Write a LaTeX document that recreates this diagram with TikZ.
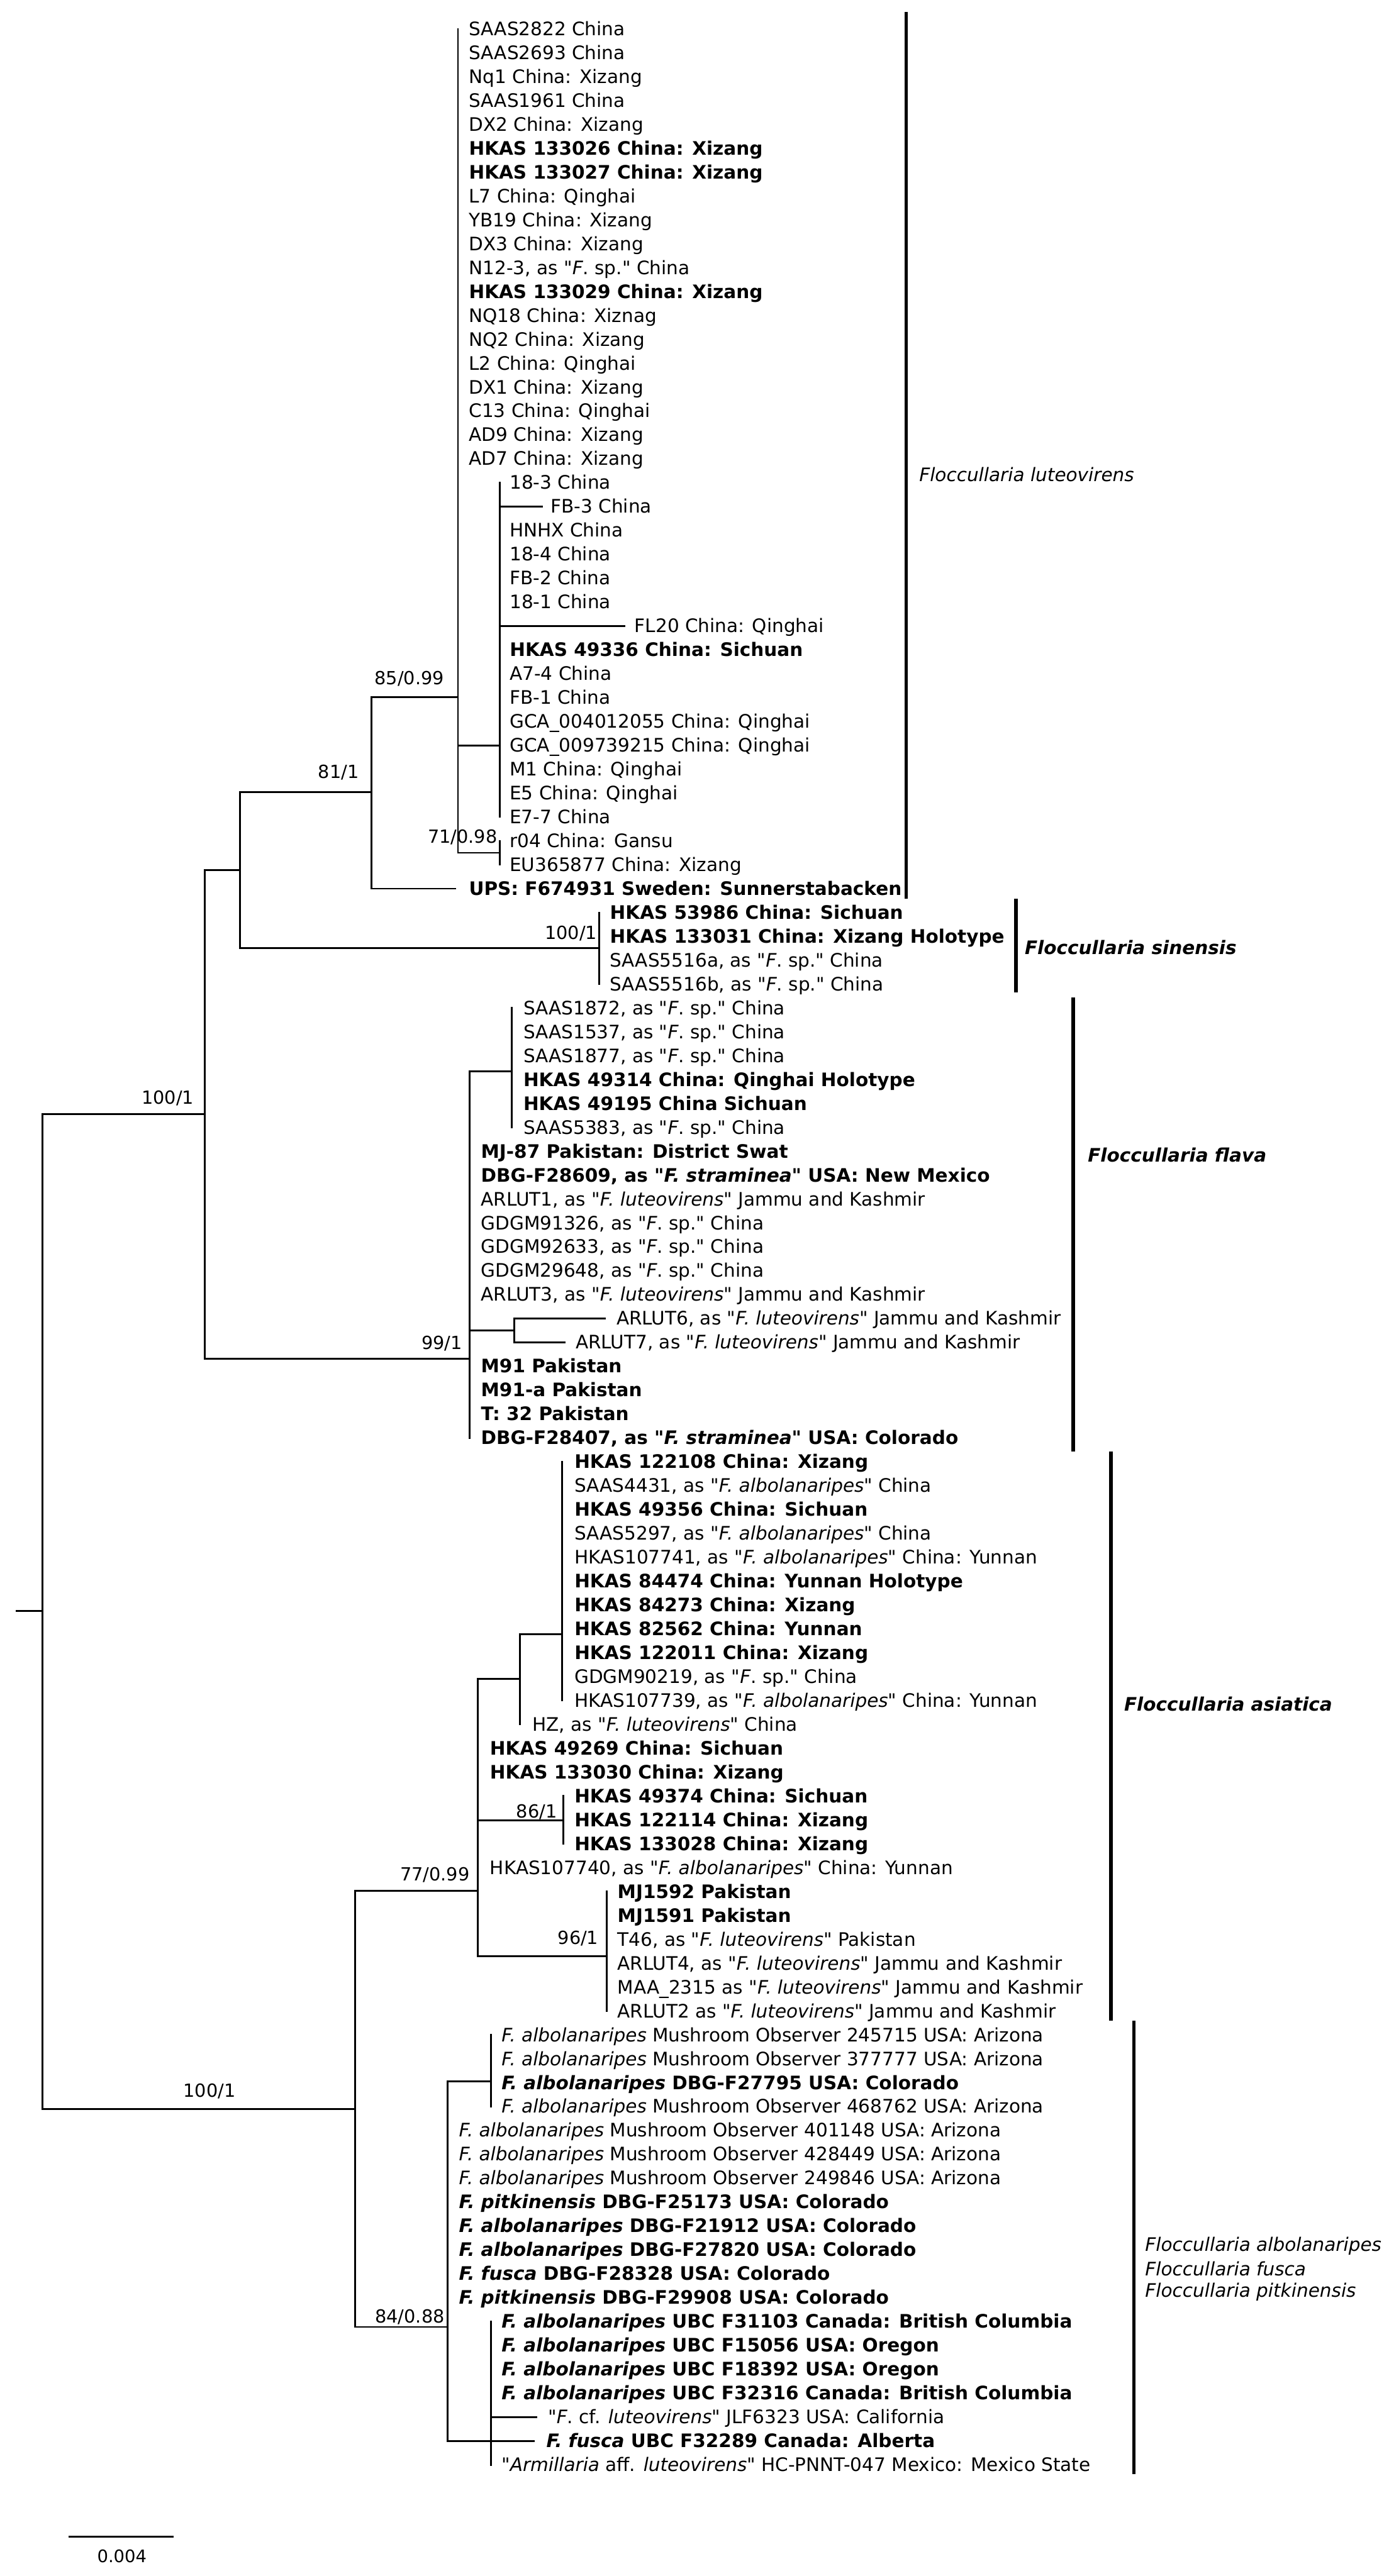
\documentclass[tikz,border=0pt]{standalone}
\usepackage{fontspec}
\newfontfamily\dv{DejaVu Sans}[ItalicFont={DejaVu Sans Oblique},BoldFont={DejaVu Sans Bold},BoldItalicFont={DejaVu Sans Bold Oblique}]
\newcommand\fs{\dv\fontsize{11.3}{13.6}\selectfont}
\newcommand\q{\symbol{34}}
\newcommand\LF[5][]{%
  \coordinate (t#2) at (#3,{17.6+(#2-1)*14.536});
  \node[leaflab,#1] (l#2) at (#4,{21.6+(#2-1)*14.536}) {#5};}
\tikzset{
  br/.style={line width=1.1pt, line cap=rect},
  cladebar/.style={line width=2.2pt},
  leaflab/.style={anchor=base west, inner sep=0pt, font=\fs},
  bl/.style={font=\fs\bfseries},
  supp/.style={inner sep=0pt, font=\dv\fontsize{11}{13}\selectfont},
  cladelab/.style={anchor=west, inner sep=0pt, font=\fs\itshape},
  cladelabb/.style={anchor=west, inner sep=0pt, font=\fs\bfseries\itshape}
}
\begin{document}
\begin{tikzpicture}[x=1pt,y=-1pt]
\useasboundingbox (0,0) rectangle (845,1568);
% ---------------- leaves ----------------
% Floccullaria luteovirens
\LF{1}{278.7}{285.2}{SAAS2822 China}
\LF{2}{278.7}{285.2}{SAAS2693 China}
\LF{3}{278.7}{285.2}{Nq1 China: Xizang}
\LF{4}{278.7}{285.2}{SAAS1961 China}
\LF{5}{278.7}{285.2}{DX2 China: Xizang}
\LF[bl]{6}{278.7}{285.2}{HKAS 133026 China: Xizang}
\LF[bl]{7}{278.7}{285.2}{HKAS 133027 China: Xizang}
\LF{8}{278.7}{285.2}{L7 China: Qinghai}
\LF{9}{278.7}{285.2}{YB19 China: Xizang}
\LF{10}{278.7}{285.2}{DX3 China: Xizang}
\LF{11}{278.7}{285.2}{N12-3, as \q\textit{F}. sp.\q{} China}
\LF[bl]{12}{278.7}{285.2}{HKAS 133029 China: Xizang}
\LF{13}{278.7}{285.2}{NQ18 China: Xiznag}
\LF{14}{278.7}{285.2}{NQ2 China: Xizang}
\LF{15}{278.7}{285.2}{L2 China: Qinghai}
\LF{16}{278.7}{285.2}{DX1 China: Xizang}
\LF{17}{278.7}{285.2}{C13 China: Qinghai}
\LF{18}{278.7}{285.2}{AD9 China: Xizang}
\LF{19}{278.7}{285.2}{AD7 China: Xizang}
\LF{20}{304}{310}{18-3 China}
\LF{21}{330}{335}{FB-3 China}
\LF{22}{304}{310}{HNHX China}
\LF{23}{304}{310}{18-4 China}
\LF{24}{304}{310}{FB-2 China}
\LF{25}{304}{310}{18-1 China}
\LF{26}{380}{386}{FL20 China: Qinghai}
\LF[bl]{27}{304}{310}{HKAS 49336 China: Sichuan}
\LF{28}{304}{310}{A7-4 China}
\LF{29}{304}{310}{FB-1 China}
\LF{30}{304}{310}{GCA\_004012055 China: Qinghai}
\LF{31}{304}{310}{GCA\_009739215 China: Qinghai}
\LF{32}{304}{310}{M1 China: Qinghai}
\LF{33}{304}{310}{E5 China: Qinghai}
\LF{34}{304}{310}{E7-7 China}
\LF{35}{304}{310}{r04 China: Gansu}
\LF{36}{304}{310}{EU365877 China: Xizang}
\LF[bl]{37}{277}{285.2}{UPS: F674931 Sweden: Sunnerstabacken}
% Floccullaria sinensis
\LF[bl]{38}{364.7}{371}{HKAS 53986 China: Sichuan}
\LF[bl]{39}{364.7}{371}{HKAS 133031 China: Xizang Holotype}
\LF{40}{364.7}{371}{SAAS5516a, as \q\textit{F}. sp.\q{} China}
\LF{41}{364.7}{371}{SAAS5516b, as \q\textit{F}. sp.\q{} China}
% Floccullaria flava
\LF{42}{311.4}{318.3}{SAAS1872, as \q\textit{F}. sp.\q{} China}
\LF{43}{311.4}{318.3}{SAAS1537, as \q\textit{F}. sp.\q{} China}
\LF{44}{311.4}{318.3}{SAAS1877, as \q\textit{F}. sp.\q{} China}
\LF[bl]{45}{311.4}{318.3}{HKAS 49314 China: Qinghai Holotype}
\LF[bl]{46}{311.4}{318.3}{HKAS 49195 China Sichuan}
\LF{47}{311.4}{318.3}{SAAS5383, as \q\textit{F}. sp.\q{} China}
\LF[bl]{48}{285.7}{292.5}{MJ-87 Pakistan: District Swat}
\LF[bl]{49}{285.7}{292.5}{DBG-F28609, as \q\textit{F. straminea}\q{} USA: New Mexico}
\LF{50}{285.7}{292.5}{ARLUT1, as \q\textit{F. luteovirens}\q{} Jammu and Kashmir}
\LF{51}{285.7}{292.5}{GDGM91326, as \q\textit{F}. sp.\q{} China}
\LF{52}{285.7}{292.5}{GDGM92633, as \q\textit{F}. sp.\q{} China}
\LF{53}{285.7}{292.5}{GDGM29648, as \q\textit{F}. sp.\q{} China}
\LF{54}{285.7}{292.5}{ARLUT3, as \q\textit{F. luteovirens}\q{} Jammu and Kashmir}
\LF{55}{368}{375}{ARLUT6, as \q\textit{F. luteovirens}\q{} Jammu and Kashmir}
\LF{56}{343.6}{350.1}{ARLUT7, as \q\textit{F. luteovirens}\q{} Jammu and Kashmir}
\LF[bl]{57}{285.7}{292.5}{M91 Pakistan}
\LF[bl]{58}{285.7}{292.5}{M91-a Pakistan}
\LF[bl]{59}{285.7}{292.5}{T: 32 Pakistan}
\LF[bl]{60}{285.7}{292.5}{DBG-F28407, as \q\textit{F. straminea}\q{} USA: Colorado}
% Floccullaria asiatica
\LF[bl]{61}{342}{349.4}{HKAS 122108 China: Xizang}
\LF{62}{342}{349.4}{SAAS4431, as \q\textit{F. albolanaripes}\q{} China}
\LF[bl]{63}{342}{349.4}{HKAS 49356 China: Sichuan}
\LF{64}{342}{349.4}{SAAS5297, as \q\textit{F. albolanaripes}\q{} China}
\LF{65}{342}{349.4}{HKAS107741, as \q\textit{F. albolanaripes}\q{} China: Yunnan}
\LF[bl]{66}{342}{349.4}{HKAS 84474 China: Yunnan Holotype}
\LF[bl]{67}{342}{349.4}{HKAS 84273 China: Xizang}
\LF[bl]{68}{342}{349.4}{HKAS 82562 China: Yunnan}
\LF[bl]{69}{342}{349.4}{HKAS 122011 China: Xizang}
\LF{70}{342}{349.4}{GDGM90219, as \q\textit{F}. sp.\q{} China}
\LF{71}{342}{349.4}{HKAS107739, as \q\textit{F. albolanaripes}\q{} China: Yunnan}
\LF{72}{316.4}{323.8}{HZ, as \q\textit{F. luteovirens}\q{} China}
\LF[bl]{73}{290.7}{298}{HKAS 49269 China: Sichuan}
\LF[bl]{74}{290.7}{298}{HKAS 133030 China: Xizang}
\LF[bl]{75}{342.9}{349.4}{HKAS 49374 China: Sichuan}
\LF[bl]{76}{342.9}{349.4}{HKAS 122114 China: Xizang}
\LF[bl]{77}{342.9}{349.4}{HKAS 133028 China: Xizang}
\LF{78}{290.7}{298}{HKAS107740, as \q\textit{F. albolanaripes}\q{} China: Yunnan}
\LF[bl]{79}{369.1}{375.6}{MJ1592 Pakistan}
\LF[bl]{80}{369.1}{375.6}{MJ1591 Pakistan}
\LF{81}{369.1}{375.6}{T46, as \q\textit{F. luteovirens}\q{} Pakistan}
\LF{82}{369.1}{375.6}{ARLUT4, as \q\textit{F. luteovirens}\q{} Jammu and Kashmir}
\LF{83}{369.1}{375.6}{MAA\_2315 as \q\textit{F. luteovirens}\q{} Jammu and Kashmir}
\LF{84}{369.1}{375.6}{ARLUT2 as \q\textit{F. luteovirens}\q{} Jammu and Kashmir}
% albolanaripes / fusca / pitkinensis
\LF{85}{298.7}{305}{\textit{F. albolanaripes} Mushroom Observer 245715 USA: Arizona}
\LF{86}{298.7}{305}{\textit{F. albolanaripes} Mushroom Observer 377777 USA: Arizona}
\LF[bl]{87}{298.7}{305}{\textit{F. albolanaripes} DBG-F27795 USA: Colorado}
\LF{88}{298.7}{305}{\textit{F. albolanaripes} Mushroom Observer 468762 USA: Arizona}
\LF{89}{272.5}{279.1}{\textit{F. albolanaripes} Mushroom Observer 401148 USA: Arizona}
\LF{90}{272.5}{279.1}{\textit{F. albolanaripes} Mushroom Observer 428449 USA: Arizona}
\LF{91}{272.5}{279.1}{\textit{F. albolanaripes} Mushroom Observer 249846 USA: Arizona}
\LF[bl]{92}{272.5}{279.1}{\textit{F. pitkinensis} DBG-F25173 USA: Colorado}
\LF[bl]{93}{272.5}{279.1}{\textit{F. albolanaripes} DBG-F21912 USA: Colorado}
\LF[bl]{94}{272.5}{279.1}{\textit{F. albolanaripes} DBG-F27820 USA: Colorado}
\LF[bl]{95}{272.5}{279.1}{\textit{F. fusca} DBG-F28328 USA: Colorado}
\LF[bl]{96}{272.5}{279.1}{\textit{F. pitkinensis} DBG-F29908 USA: Colorado}
\LF[bl]{97}{298.7}{305}{\textit{F. albolanaripes} UBC F31103 Canada: British Columbia}
\LF[bl]{98}{298.7}{305}{\textit{F. albolanaripes} UBC F15056 USA: Oregon}
\LF[bl]{99}{298.7}{305}{\textit{F. albolanaripes} UBC F18392 USA: Oregon}
\LF[bl]{100}{298.7}{305}{\textit{F. albolanaripes} UBC F32316 Canada: British Columbia}
\LF{101}{326.2}{333.3}{\q\textit{F}. cf. \textit{luteovirens}\q{} JLF6323 USA: California}
\LF[bl]{102}{325}{332.3}{\textit{F. fusca} UBC F32289 Canada: Alberta}
\LF{103}{298.7}{305}{\q\textit{Armillaria} aff. \textit{luteovirens}\q{} HC-PNNT-047 Mexico: Mexico State}
% ---------------- internal nodes ----------------
\coordinate (stub) at (10.3,980.6);
\coordinate (nR) at (26,980.6);
\coordinate (nA) at (124.5,678.1);
\coordinate (nB) at (146.1,529.6);
\coordinate (nC) at (226.2,482.3);
\coordinate (nD) at (278.7,424.4);
\coordinate (nE) at (304,453.8);
\coordinate (nF) at (304,519.1);
\coordinate (nG) at (364.7,577.2);
\coordinate (nH) at (285.7,826.9);
\coordinate (nI) at (311.4,652);
\coordinate (nJt) at (313.1,809.9);
\coordinate (nJ) at (216.2,1283.6);
\coordinate (nK) at (290.7,1150.8);
\coordinate (nL) at (316.4,1021.9);
\coordinate (nM) at (342,994.7);
\coordinate (nP) at (342.9,1108);
\coordinate (nQ) at (369.1,1190.7);
\coordinate (nN) at (272.5,1416.4);
\coordinate (nNa) at (298.7,1267);
\coordinate (nO) at (298.7,1485.7);
% ---------------- branches ----------------
\draw[br] (stub) -- (nR);
\draw[br] (nR |- nA) -- (nR |- nJ);
\draw[br] (nR |- nA) -- (nA);
\draw[br] (nR |- nJ) -- (nJ);
% A
\draw[br] (nA |- nB) -- (nA |- nH);
\draw[br] (nA |- nB) -- (nB);
\draw[br] (nA |- nH) -- (nH);
% B
\draw[br] (nB |- nC) -- (nB |- nG);
\draw[br] (nB |- nC) -- (nC);
\draw[br] (nB |- nG) -- (nG);
% C
\draw[br] (nC |- nD) -- (nC |- t37);
\draw[br] (nC |- nD) -- (nD);
\draw[br] (nC |- t37) -- (t37);
% D
\draw[br] (nD |- t1) -- (nD |- nF);
\draw[br] (nD |- nE) -- (nE);
\draw[br] (nD |- nF) -- (nF);
% E
\draw[br] (nE |- t20) -- (nE |- t34);
\draw[br] (nE |- t21) -- (t21);
\draw[br] (nE |- t26) -- (t26);
% F
\draw[br] (nF |- t35) -- (nF |- t36);
% G
\draw[br] (nG |- t38) -- (nG |- t41);
% H
\draw[br] (nH |- nI) -- (nH |- t60);
\draw[br] (nH |- nI) -- (nI);
\draw[br] (nH |- nJt) -- (nJt);
\draw[br] (nI |- t42) -- (nI |- t47);
\draw[br] (nJt |- t55) -- (nJt |- t56);
\draw[br] (nJt |- t55) -- (t55);
\draw[br] (nJt |- t56) -- (t56);
% J
\draw[br] (nJ |- nK) -- (nJ |- nN);
\draw[br] (nJ |- nK) -- (nK);
\draw[br] (nJ |- nN) -- (nN);
% K
\draw[br] (nK |- nL) -- (nK |- nQ);
\draw[br] (nK |- nL) -- (nL);
\draw[br] (nK |- nP) -- (nP);
\draw[br] (nK |- nQ) -- (nQ);
\draw[br] (nL |- nM) -- (nL |- t72);
\draw[br] (nL |- nM) -- (nM);
\draw[br] (nM |- t61) -- (nM |- t71);
\draw[br] (nP |- t75) -- (nP |- t77);
\draw[br] (nQ |- t79) -- (nQ |- t84);
% N
\draw[br] (nN |- nNa) -- (nN |- nO);
\draw[br] (nN |- nNa) -- (nNa);
\draw[br] (nN |- t102) -- (t102);
\draw[br] (nNa |- t85) -- (nNa |- t88);
\draw[br] (nO |- t97) -- (nO |- t103);
\draw[br] (nO |- t101) -- (t101);
% ---------------- support values ----------------
\node[supp] (s1) at (102.1,668.6) {100/1};
\node[supp] (s2) at (206,470.3) {81/1};
\node[supp] (s3) at (249.1,413.3) {85/0.99};
\node[supp] (s4) at (281.5,509.5) {71/0.98};
\node[supp] (s5) at (347.5,568) {100/1};
\node[supp] (s6) at (269,817.8) {99/1};
\node[supp] (s7) at (127.5,1272.8) {100/1};
\node[supp] (s8) at (264.6,1141.3) {77/0.99};
\node[supp] (s9) at (326.6,1102.8) {86/1};
\node[supp] (s10) at (351.8,1179.8) {96/1};
\node[supp] (s11) at (249.4,1410.2) {84/0.88};
% ---------------- clade bars ----------------
\coordinate (b1a) at (551.4,7.4);   \coordinate (b1b) at (551.4,547);
\coordinate (b2a) at (618.3,547);   \coordinate (b2b) at (618.3,603.9);
\coordinate (b3a) at (653,607.3);   \coordinate (b3b) at (653,883.4);
\coordinate (b4a) at (676.1,883.4); \coordinate (b4b) at (676.1,1229.9);
\coordinate (b5a) at (690,1229.9);  \coordinate (b5b) at (690,1506);
\draw[cladebar] (b1a) -- (b1b);
\draw[cladebar] (b2a) -- (b2b);
\draw[cladebar] (b3a) -- (b3b);
\draw[cladebar] (b4a) -- (b4b);
\draw[cladebar] (b5a) -- (b5b);
\node[cladelab] (c1) at (559.2,289) {Floccullaria luteovirens};
\node[cladelabb] (c2) at (623.4,576.7) {Floccullaria sinensis};
\node[cladelabb] (c3) at (661.8,703) {Floccullaria flava};
\node[cladelabb] (c4) at (683.9,1037.1) {Floccullaria asiatica};
\node[cladelab] (c5) at (696.7,1367) {Floccullaria albolanaripes};
\node[cladelab] (c6) at (696.7,1381) {Floccullaria fusca};
\node[cladelab] (c7) at (696.7,1395) {Floccullaria pitkinensis};
% ---------------- scale bar ----------------
\coordinate (sb1) at (41.6,1544);
\coordinate (sb2) at (105.5,1544);
\draw[line width=1pt] (sb1) -- (sb2);
\node[supp, font=\dv\fontsize{10.5}{12}\selectfont] (sbl) at (74.2,1556) {0.004};
\end{tikzpicture}
\end{document}
